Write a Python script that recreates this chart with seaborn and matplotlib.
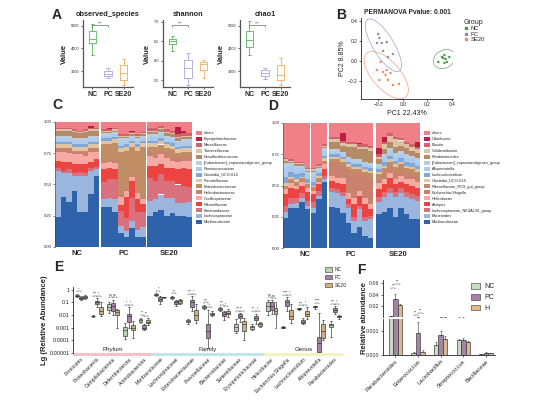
import numpy as np
import pandas as pd
import matplotlib
matplotlib.use("Agg")
import matplotlib.pyplot as plt
from matplotlib.patches import Ellipse, Patch
from matplotlib.lines import Line2D
from matplotlib.ticker import NullLocator
import seaborn as sns

W, H = 552, 407

# ---------------- A: alpha diversity, (min, q1, median, q3, max) per group
groups = ["NC", "PC", "SE20"]
obs_nc = [3700, 4220, 4430, 4780, 5090]
obs_pc = [2700, 2780, 2890, 3000, 3130]
obs_se20 = [2390, 2610, 2900, 3260, 3520]
shannon_nc = [6.26, 6.44, 6.52, 6.57, 6.64]
shannon_pc = [5.37, 5.55, 5.81, 6.01, 6.21]
shannon_se20 = [5.55, 5.76, 5.91, 5.96, 6.01]
chao1_nc = [3700, 4040, 4350, 4780, 5220]
chao1_pc = [2650, 2780, 2900, 3040, 3130]
chao1_se20 = [2390, 2610, 2850, 3260, 3570]

# ---------------- B: PCoA
b_nc_x = [0.29, 0.32, 0.34, 0.35, 0.36, 0.34, 0.38, 0.33]
b_nc_y = [-0.01, 0.04, 0.06, 0.02, -0.01, -0.02, 0.04, 0.03]
b_pc_x = [-0.21, -0.19, -0.17, -0.13, -0.12, -0.08, -0.20, -0.16]
b_pc_y = [0.18, 0.23, 0.18, 0.19, 0.04, 0.07, 0.27, 0.10]
b_se20_x = [-0.18, -0.21, -0.16, -0.13, -0.10, -0.14, -0.12, -0.08, -0.03, -0.19]
b_se20_y = [-0.01, -0.09, -0.11, -0.09, -0.12, -0.14, -0.19, -0.24, -0.23, -0.19]

# ---------------- C: family level, 8 samples NC | 8 PC | 8 SE20 (bottom -> top)
c_muribaculaceae = [.24, .40, .36, .45, .28, .28, .42, .57, .32, .32, .28, .11, .08, .15, .08, .08, .25, .28, .30, .25, .27, .25, .25, .24]
c_lachnospiraceae = [.37, .19, .23, .12, .29, .29, .19, .05, .06, .07, .10, .06, .05, .06, .06, .08, .12, .10, .12, .14, .12, .10, .10, .12]
c_bacteroidaceae = [.02, .02, .03, .02, .03, .02, .02, .02, .14, .15, .16, .12, .10, .18, .14, .12, .18, .15, .16, .14, .14, .15, .14, .12]
c_rikenellaceae = [.06, .07, .06, .07, .06, .07, .05, .06, .10, .09, .08, .05, .17, .14, .10, .06, .10, .12, .08, .10, .10, .12, .14, .14]
c_oscillospiraceae = [.07, .08, .07, .08, .08, .07, .08, .06, .05, .05, .05, .06, .05, .03, .05, .04, .08, .06, .08, .08, .06, .06, .06, .07]
c_helicobacteraceae = [.02, .02, .03, .02, .02, .03, .02, .02, .02, .02, .02, .02, .02, .02, .02, .02, .03, .04, .03, .03, .04, .03, .03, .03]
c_enterobacteriaceae = [.01, .01, .01, .01, .01, .01, .01, .01, .13, .12, .14, .34, .30, .22, .32, .40, .04, .05, .05, .05, .05, .04, .04, .04]
c_prevotellaceae = [.03] * 24
c_clostridia = [.02] * 24
c_ruminococcaceae = [.02] * 8 + [.02, .02, .02, .03, .02, .02, .02, .02] + [.03] * 8
c_eubacterium = [.03] * 8 + [.02, .02, .02, .03, .03, .02, .03, .02] + [.02] * 8
c_desulfovibrionaceae = [.04, .04, .04, .05, .04, .05, .04, .04] + [.01] * 8 + [.02] * 8
c_tannerellaceae = [.01] * 24
c_marinifilaceae = [.01] * 16 + [.02] * 8
c_erysipelotrichaceae = [0, 0, 0, 0, 0, 0, .02, 0, 0, .01, 0, 0, 0, .01, 0, 0, 0, 0, 0, 0, 0, .06, .02, 0]
c_others = [.05, .05, .05, .06, .07, .06, .03, .05, .06, .05, .05, .10, .10, .07, .10, .08, .05, .05, .03, .06, .07, .04, .07, .09]

# ---------------- D: genus level
d_muribaculaceae = [.24, .32, .32, .37, .31, .28, .39, .53, .33, .32, .28, .20, .12, .17, .10, .08, .27, .29, .32, .25, .32, .27, .23, .23]
d_bacteroides = [.05, .03, .04, .03, .03, .04, .03, .02, .12, .12, .14, .12, .10, .14, .12, .15, .10, .12, .12, .16, .12, .14, .16, .15]
d_lachno_nk4a136 = [.05, .05, .04, .04, .04, .05, .04, .03] + [.03] * 8 + [.04] * 8
d_alistipes = [.09, .08, .07, .06, .07, .06, .05, .05, .06, .05, .06, .04, .10, .08, .10, .05, .06, .06, .08, .06, .05, .06, .07, .06]
d_helicobacter = [.04, .04, .03, .03, .03, .03, .02, .04, .04, .04, .05, .05, .05, .04, .05, .04, .05, .04, .04, .04, .05, .04, .05, .05]
d_escherichia = [.01] * 8 + [.10, .12, .10, .18, .20, .14, .18, .22] + [.03, .05, .05, .06, .05, .05, .04, .04]
d_rikenellaceae_rc9 = [.02] * 8 + [.03] * 8 + [.04] * 8
d_clostridia = [.02, .02, .02, .01, .01, .01, .02, .02] + [.02] * 16
d_lachnoclostridium = [.05, .04, .04, .03, .03, .03, .02, .02] + [.02] * 8 + [.02, .03, .03, .03, .03, .03, .03, .03]
d_alloprevotella = [.06, .05, .05, .04, .04, .05, .02, .04] + [.02] * 8 + [.02, .03, .03, .03, .03, .03, .03, .03]
d_eubacterium = [.05, .02, .02, .02, .02, .03, .02, .02] + [.02] * 8 + [.02, .03, .03, .03, .03, .03, .03, .03]
d_parabacteroides = [.02, .01, .01, .01, .01, .01, .01, .01, .06, .06, .05, .08, .10, .08, .10, .10, .04, .04, .05, .05, .04, .05, .04, .04]
d_colidextribacter = [.01] * 8 + [.02] * 8 + [.02, .04, .05, .06, .04, .03, .03, .03]
d_blautia = [.01] * 8 + [.02] * 16
d_odoribacter = [0] * 8 + [0, 0, .06, 0, 0, .01, 0, 0] + [.05, .04, 0, 0, 0, 0, 0, .04]
d_others = [.28, .29, .31, .31, .36, .36, .33, .17, .11, .11, .08, .15, .15, .16, .17, .18, .20, .11, .08, .11, .12, .15, .17, .15]

# ---------------- E: log boxplots, (min, q1, median, q3, max) per taxon
e_taxa = ["Firmicutes", "Proteobacteria", "Campilobacterota", "Deferribacterota", "Actinobacteriota",
          "Muribaculaceae", "Lachnospiraceae", "Enterobacteriaceae", "Prevotellaceae", "Bacteroidaceae",
          "Sutterellaceae", "Erysipelotrichaceae", "Helicobacter", "Escherichia-Shigella",
          "Lachnoclostridium", "Alloprevotella", "Parabacteroides"]
e_level_names = ["Phylum", "Family", "Genus"]
e_level_sizes = [5, 7, 5]
e_nc = [[0.25, 0.3, 0.33, 0.38, 0.45], [0.0075, 0.008, 0.0085, 0.009, 0.0095], [0.015, 0.025, 0.045, 0.07, 0.1],
        [0.00012, 0.00022, 0.0006, 0.0012, 0.0025], [0.0025, 0.003, 0.004, 0.0052, 0.006],
        [0.3, 0.35, 0.4, 0.45, 0.5], [0.18, 0.22, 0.25, 0.28, 0.32], [0.002, 0.0028, 0.0033, 0.004, 0.005],
        [0.03, 0.035, 0.045, 0.055, 0.06], [0.02, 0.025, 0.03, 0.035, 0.04], [0.00035, 0.0005, 0.0012, 0.0018, 0.0045],
        [0.0006, 0.0008, 0.0011, 0.0014, 0.0018], [0.01, 0.021, 0.05, 0.1, 0.15], [0.0009, 0.001, 0.0011, 0.0012, 0.0013],
        [0.025, 0.028, 0.03, 0.033, 0.036], [0.03, 0.04, 0.045, 0.05, 0.055], [0.0002, 0.0012, 0.0015, 0.0018, 0.0035]]
e_pc = [[0.15, 0.18, 0.21, 0.25, 0.3], [0.045, 0.07, 0.1, 0.13, 0.2], [0.01, 0.02, 0.05, 0.09, 0.15],
        [0.0009, 0.003, 0.008, 0.012, 0.04], [0.0006, 0.0008, 0.001, 0.0015, 0.002],
        [0.08, 0.13, 0.18, 0.25, 0.32], [0.05, 0.07, 0.1, 0.13, 0.16], [0.02, 0.045, 0.1, 0.15, 0.3],
        [0.000025, 0.00015, 0.0005, 0.002, 0.025], [0.004, 0.008, 0.011, 0.017, 0.022], [0.003, 0.0055, 0.008, 0.011, 0.014],
        [0.002, 0.004, 0.006, 0.009, 0.013], [0.012, 0.025, 0.052, 0.1, 0.14], [0.02, 0.05, 0.1, 0.15, 0.25],
        [0.0018, 0.0022, 0.003, 0.004, 0.006], [0.00001, 0.000012, 0.00006, 0.0002, 0.015], [0.012, 0.017, 0.025, 0.035, 0.05]]
e_se20 = [[0.18, 0.22, 0.25, 0.3, 0.38], [0.008, 0.011, 0.02, 0.04, 0.1], [0.001, 0.01, 0.018, 0.025, 0.03],
          [0.00015, 0.0007, 0.001, 0.0015, 0.0033], [0.0015, 0.0022, 0.003, 0.004, 0.0055],
          [0.22, 0.24, 0.25, 0.27, 0.28], [0.07, 0.09, 0.12, 0.15, 0.19], [0.0025, 0.004, 0.01, 0.025, 0.07],
          [0.008, 0.01, 0.012, 0.015, 0.02], [0.007, 0.011, 0.015, 0.022, 0.03], [0.0001, 0.0005, 0.002, 0.0033, 0.006],
          [0.0011, 0.0014, 0.0018, 0.0022, 0.0028], [0.001, 0.011, 0.02, 0.035, 0.1], [0.0025, 0.0045, 0.008, 0.025, 0.07],
          [0.005, 0.008, 0.012, 0.02, 0.04], [0.0001, 0.00015, 0.0005, 0.0018, 0.004], [0.005, 0.007, 0.0083, 0.009, 0.01]]
e_sig_nc_pc = ["*", "***", "ns", "*", "**", "*", "**", "***", "***", "***", "***", "**", "ns", "****", "***", "****", "***"]
e_sig_pc_se = ["", "*", "ns", "*", "**", "", "", "*", "*", "*", "**", "*", "ns", "*", "*", "", "*"]

# ---------------- F: broken-axis bars (mean, upper error)
f_taxa = ["Parabacteroides", "Enterococcus", "Lactobacillus", "Streptococcus", "Bacillaceae"]
f_groups = ["NC", "PC", "H"]
f_nc = [0.0025, 0.0001, 0.0004, 0.00062, 0.00004]
f_pc = [0.033, 0.00092, 0.00082, 0.00064, 0.0001]
f_h = [0.022, 0.00014, 0.00068, 0.00055, 0.00007]
f_nc_err = [0.0003, 0.00003, 0.00015, 0.00004, 0.00001]
f_pc_err = [0.008, 0.00045, 0.0002, 0.00006, 0.00003]
f_h_err = [0.002, 0.00006, 0.00012, 0.00005, 0.00002]

sns.set_style("ticks")
plt.rcParams["font.family"] = ["Liberation Sans", "DejaVu Sans"]
plt.rcParams["axes.linewidth"] = 0.6
plt.rcParams["xtick.major.width"] = 0.5
plt.rcParams["ytick.major.width"] = 0.5
plt.rcParams["xtick.major.size"] = 1.5
plt.rcParams["ytick.major.size"] = 1.5
plt.rcParams["xtick.major.pad"] = 1
plt.rcParams["ytick.major.pad"] = 1

fig = plt.figure(figsize=(W / 100, H / 100), dpi=100)


def px_axes(x0, y0, x1, y1):
    return fig.add_axes([x0 / W, 1 - y1 / H, (x1 - x0) / W, (y1 - y0) / H])


def letter(x, y, s):
    fig.text(x / W, 1 - y / H, s, fontsize=10, fontweight="bold", ha="left", va="center")


# ======== A
a_pal = {"NC": "#5ab65b", "PC": "#aba6dc", "SE20": "#f6aa5e"}
alpha_sets = [("observed_species", [obs_nc, obs_pc, obs_se20], (2300, 5250), [3000, 4000, 5000]),
              ("shannon", [shannon_nc, shannon_pc, shannon_se20], (5.32, 7.05), [5.5, 6.0, 6.5, 7.0]),
              ("chao1", [chao1_nc, chao1_pc, chao1_se20], (2300, 5250), [3000, 4000, 5000])]
for (title, vals, ylim, ticks), x0 in zip(alpha_sets, [83, 163, 240]):
    ax = px_axes(x0, 20, x0 + 50, 87)
    adf = pd.DataFrame({"group": np.repeat(groups, 5), "value": np.concatenate(vals)})
    sns.boxplot(data=adf, x="group", y="value", hue="group", palette=a_pal, fill=False,
                width=0.45, linewidth=0.6, whis=(0, 100), legend=False, ax=ax)
    ax.set_xlim(-0.6, 2.6)
    ax.set_ylim(*ylim)
    ax.set_yticks(ticks)
    ax.tick_params(axis="y", labelsize=2.8)
    ax.tick_params(axis="x", labelsize=5, pad=1.5)
    for t in ax.get_xticklabels():
        t.set_fontweight("bold")
    ax.set_xlabel("")
    ax.set_ylabel("Value", fontsize=5.5, fontweight="bold", labelpad=2)
    ax.set_title(title, fontsize=5.3, fontweight="bold", pad=3)
    for s in ["left", "bottom"]:
        ax.spines[s].set_color("#555555")
        ax.spines[s].set_linewidth(0.9)
    sns.despine(ax=ax)
    yb = ylim[0] + 0.92 * (ylim[1] - ylim[0])
    ax.plot([0, 0, 1, 1], [yb - 0.02 * (ylim[1] - ylim[0]), yb, yb, yb - 0.02 * (ylim[1] - ylim[0])],
            color="#444444", lw=0.4)
    ax.text(0.5, yb, "***", fontsize=3, ha="center", va="bottom", color="#444444")
letter(52, 15, "A")

# ======== B
b_pal = {"NC": "#3d9b3d", "PC": "#8a87b8", "SE20": "#ea8a5e"}
bdf = pd.DataFrame({"PC1": b_nc_x + b_pc_x + b_se20_x, "PC2": b_nc_y + b_pc_y + b_se20_y,
                    "Group": ["NC"] * len(b_nc_x) + ["PC"] * len(b_pc_x) + ["SE20"] * len(b_se20_x)})
ax = px_axes(361, 18, 453, 99)
sns.scatterplot(data=bdf, x="PC1", y="PC2", hue="Group", palette=b_pal, s=3, linewidth=0, legend=False, ax=ax)


def add_ellipse(ax, x, y, color, scale=3.3):
    cov = np.cov(x, y)
    vals, vecs = np.linalg.eigh(cov)
    order = vals.argsort()[::-1]
    vals, vecs = vals[order], vecs[:, order]
    angle = np.degrees(np.arctan2(vecs[1, 0], vecs[0, 0]))
    w, h = 2 * scale * np.sqrt(vals)
    ax.add_patch(Ellipse((np.mean(x), np.mean(y)), w, h, angle=angle, fill=False,
                         edgecolor=color, lw=0.5, alpha=0.8))


for g, xs, ys in [("NC", b_nc_x, b_nc_y), ("PC", b_pc_x, b_pc_y), ("SE20", b_se20_x, b_se20_y)]:
    add_ellipse(ax, xs, ys, b_pal[g])
ax.set_xlim(-0.34, 0.41)
ax.set_ylim(-0.38, 0.43)
ax.set_xticks([-0.2, 0.0, 0.2, 0.4])
ax.set_yticks([-0.2, 0.0, 0.2, 0.4])
ax.tick_params(labelsize=3.5)
ax.set_xlabel("PC1 22.43%", fontsize=5, labelpad=1.5)
ax.set_ylabel("PC2 8.85%", fontsize=5, labelpad=1.5)
ax.set_title("PERMANOVA Pvalue: 0.001", fontsize=4.8, fontweight="bold", pad=3)
sns.despine(ax=ax)
b_handles = [Line2D([], [], marker="o", ls="", markersize=1.6, color=b_pal[g]) for g in groups]
fig.legend(b_handles, groups, title="Group", loc="upper left", bbox_to_anchor=(464 / W, 1 - 19 / H),
           frameon=False, fontsize=4.2, title_fontsize=5, handlelength=0.8, handletextpad=0.3,
           labelspacing=0.05, borderpad=0, borderaxespad=0, alignment="left")
letter(336, 15, "B")

# ======== C / D stacked bars
stack_colors = ["#2e62ab", "#9bb6de", "#d9707e", "#ec4541", "#f7aaa4", "#c9826e", "#c08d64", "#e2c4a3",
                "#7fa7d8", "#aacbee", "#bacde3", "#b58a66", "#dcc3a3", "#d0616f", "#bd1e43", "#f07f88"]
c_layers = [("Muribaculaceae", c_muribaculaceae), ("Lachnospiraceae", c_lachnospiraceae),
            ("Bacteroidaceae", c_bacteroidaceae), ("Rikenellaceae", c_rikenellaceae),
            ("Oscillospiraceae", c_oscillospiraceae), ("Helicobacteraceae", c_helicobacteraceae),
            ("Enterobacteriaceae", c_enterobacteriaceae), ("Prevotellaceae", c_prevotellaceae),
            ("Clostridia_UCG-014", c_clostridia), ("Ruminococcaceae", c_ruminococcaceae),
            ("[Eubacterium]_coprostanoligenes_group", c_eubacterium),
            ("Desulfovibrionaceae", c_desulfovibrionaceae), ("Tannerellaceae", c_tannerellaceae),
            ("Marinifilaceae", c_marinifilaceae), ("Erysipelotrichaceae", c_erysipelotrichaceae),
            ("others", c_others)]
d_layers = [("Muribaculaceae", d_muribaculaceae), ("Bacteroides", d_bacteroides),
            ("Lachnospiraceae_NK4A136_group", d_lachno_nk4a136), ("Alistipes", d_alistipes),
            ("Helicobacter", d_helicobacter), ("Escherichia-Shigella", d_escherichia),
            ("Rikenellaceae_RC9_gut_group", d_rikenellaceae_rc9), ("Clostridia_UCG-014", d_clostridia),
            ("Lachnoclostridium", d_lachnoclostridium), ("Alloprevotella", d_alloprevotella),
            ("[Eubacterium]_coprostanoligenes_group", d_eubacterium), ("Parabacteroides", d_parabacteroides),
            ("Colidextribacter", d_colidextribacter), ("Blautia", d_blautia), ("Odoribacter", d_odoribacter),
            ("others", d_others)]


def stacked_panel(facet_px, y0, y1, layers, legend_x, legend_y):
    n = 8
    for gi, (fx0, fx1) in enumerate(facet_px):
        ax = px_axes(fx0, y0, fx1, y1)
        bottom = np.zeros(n)
        for (name, vals), col in zip(layers, stack_colors):
            v = np.array(vals[gi * n:(gi + 1) * n], dtype=float)
            ax.bar(np.arange(n), v, bottom=bottom, width=1.0, color=col, linewidth=0)
            bottom += v
        ax.set_xlim(-0.5, n - 0.5)
        ax.set_ylim(0, 1.0)
        ax.set_xticks([])
        for s in ["top", "right", "bottom", "left"]:
            ax.spines[s].set_visible(False)
        if gi == 0:
            ax.spines["left"].set_visible(True)
            ax.spines["left"].set_color("#444444")
            ax.spines["left"].set_linewidth(0.4)
            ax.set_yticks([0, 0.25, 0.5, 0.75, 1.0])
            ax.set_yticklabels(["0.00", "0.25", "0.50", "0.75", "1.00"])
            ax.tick_params(axis="y", labelsize=3, length=1.2, width=0.4)
        else:
            ax.set_yticks([])
        ax.text(0.5, -0.025, groups[gi], transform=ax.transAxes, ha="center", va="top",
                fontsize=5.5, fontweight="bold")
    handles = [Patch(facecolor=c, edgecolor="none") for c in stack_colors][::-1]
    labels = [name for name, _ in layers][::-1]
    fig.legend(handles, labels, loc="upper left", bbox_to_anchor=(legend_x / W, 1 - legend_y / H),
               frameon=False, fontsize=2.8, handlelength=1.5, handleheight=1.2, labelspacing=0.42,
               handletextpad=0.5, borderpad=0, borderaxespad=0)


stacked_panel([(55, 99), (101, 146), (147, 192)], 122, 247, c_layers, 196, 131)
stacked_panel([(283, 327), (329, 373), (376, 420)], 123, 248, d_layers, 424, 131)
letter(52, 105, "C")
letter(268, 106, "D")

# ======== E
e_pal = {"NC": "#b7d6b0", "PC": "#a97fab", "SE20": "#dab27c"}
rows = []
for g, table in zip(groups, [e_nc, e_pc, e_se20]):
    for taxon, vals in zip(e_taxa, table):
        for v in vals:
            rows.append((taxon, g, v))
edf = pd.DataFrame(rows, columns=["taxon", "group", "value"])
ax = px_axes(73, 287, 343, 353)
sns.boxplot(data=edf, x="taxon", y="value", hue="group", palette=e_pal, log_scale=True,
            whis=(0, 100), width=0.75, linewidth=0.45, linecolor="#2b2b2b", fliersize=0,
            legend=False, ax=ax)
ax.set_ylim(1e-5, 1.6)
ax.set_xlim(-0.5, len(e_taxa) - 0.5)
ax.set_yticks([1, 0.1, 0.01, 0.001, 0.0001, 0.00001])
ax.set_yticklabels(["1", "0.1", "0.01", "0.001", "0.0001", "0.00001"])
ax.yaxis.set_minor_locator(NullLocator())
ax.tick_params(axis="y", labelsize=4)
ax.tick_params(axis="x", labelsize=3.7, pad=1)
plt.setp(ax.get_xticklabels(), rotation=45, ha="right", rotation_mode="anchor")
ax.set_xlabel("")
ax.set_ylabel("Lg (Relative Abundance)", fontsize=5.5, fontweight="bold", labelpad=1)
sns.despine(ax=ax)
ax.spines["bottom"].set_visible(False)
# category bands along the x axis
start = 0
band_colors = ["#f5c0c6", "#c2e4ec", "#f6efc4"]
for name, size, col in zip(e_level_names, e_level_sizes, band_colors):
    ax.axvspan(start - 0.5, start + size - 0.5, ymin=-0.045, ymax=0.0, color=col, clip_on=False, lw=0)
    ax.text(start + size / 2 - 0.5, 0.015, name, transform=ax.get_xaxis_transform(),
            ha="center", va="bottom", fontsize=4.5)
    start += size
# significance brackets
for i in range(len(e_taxa)):
    for (ga, gb, off_a, off_b, sig) in [(e_nc, e_pc, -0.25, 0.0, e_sig_nc_pc[i]),
                                        (e_pc, e_se20, 0.0, 0.25, e_sig_pc_se[i])]:
        if not sig:
            continue
        yb = max(ga[i][4], gb[i][4]) * 1.6
        ax.plot([i + off_a, i + off_a, i + off_b, i + off_b], [yb / 1.2, yb, yb, yb / 1.2],
                color="#333333", lw=0.3)
        ax.text(i + (off_a + off_b) / 2, yb, sig, fontsize=2.5, ha="center", va="bottom")
e_handles = [Patch(facecolor=e_pal[g], edgecolor="#333333", lw=0.4) for g in groups]
fig.legend(e_handles, groups, loc="upper left", bbox_to_anchor=(325 / W, 1 - 267 / H), frameon=False,
           fontsize=3.5, handlelength=1.4, handleheight=1.0, labelspacing=0.6, handletextpad=0.6,
           borderpad=0, borderaxespad=0)
letter(54, 267, "E")

# ======== F broken axis
f_pal = {"NC": "#c6e0bf", "PC": "#a87fab", "H": "#e2ba88"}
fdf = pd.DataFrame({"taxon": f_taxa * 3, "group": np.repeat(f_groups, len(f_taxa)),
                    "value": f_nc + f_pc + f_h})
f_err = {"NC": f_nc_err, "PC": f_pc_err, "H": f_h_err}
f_vals = {"NC": f_nc, "PC": f_pc, "H": f_h}
ax_top = px_axes(383, 280, 495, 317)
ax_bot = px_axes(383, 319, 495, 355)
for ax in [ax_top, ax_bot]:
    sns.barplot(data=fdf, x="taxon", y="value", hue="group", palette=f_pal, width=0.6,
                edgecolor="#333333", linewidth=0.45, errorbar=None, legend=False, ax=ax)
    for cont, g in zip(ax.containers, f_groups):
        xs = [b.get_x() + b.get_width() / 2 for b in cont]
        ax.errorbar(xs, f_vals[g], yerr=[np.zeros(len(xs)), f_err[g]], fmt="none",
                    ecolor="#333333", elinewidth=0.4, capsize=1, capthick=0.4)
    ax.set_xlim(-0.55, 4.4)
    ax.set_xlabel("")
    ax.set_ylabel("")
    ax.tick_params(axis="y", labelsize=3.8)
    sns.despine(ax=ax)
ax_top.set_ylim(0.0015, 0.065)
ax_top.set_yticks([0.02, 0.04, 0.06])
ax_top.set_yticklabels(["0.02", "0.04", "0.06"])
ax_top.set_xticks([])
ax_top.spines["bottom"].set_visible(False)
ax_bot.set_ylim(0, 0.0015)
ax_bot.set_yticks([0, 0.001])
ax_bot.set_yticklabels(["0.000", "0.001"])
ax_bot.tick_params(axis="x", labelsize=4.2, pad=1)
plt.setp(ax_bot.get_xticklabels(), rotation=45, ha="right", rotation_mode="anchor")
# significance for Parabacteroides and Enterococcus
for i, levels in [(0, (0.052, 0.058)), (1, (0.005, 0.009))]:
    for (a, b), yb in zip([(-0.2, 0.0), (0.0, 0.2)], levels):
        ax_top.plot([i + a, i + a, i + b, i + b], [yb - 0.002, yb, yb, yb - 0.002], color="#333333", lw=0.3)
        ax_top.text(i + (a + b) / 2, yb, "**", fontsize=2.8, ha="center", va="bottom")
fig.text(364 / W, 1 - 318 / H, "Relative abundance", rotation=90, fontsize=5.5, fontweight="bold",
         ha="center", va="center")
f_handles = [Patch(facecolor=f_pal[g], edgecolor="#333333", lw=0.4) for g in f_groups]
fig.legend(f_handles, f_groups, loc="upper left", bbox_to_anchor=(471 / W, 1 - 283 / H), frameon=False,
           fontsize=5, handlelength=1.3, handleheight=0.9, labelspacing=0.5, handletextpad=0.6,
           borderpad=0, borderaxespad=0)
letter(357, 270, "F")

fig.savefig("out.png", dpi=100)
